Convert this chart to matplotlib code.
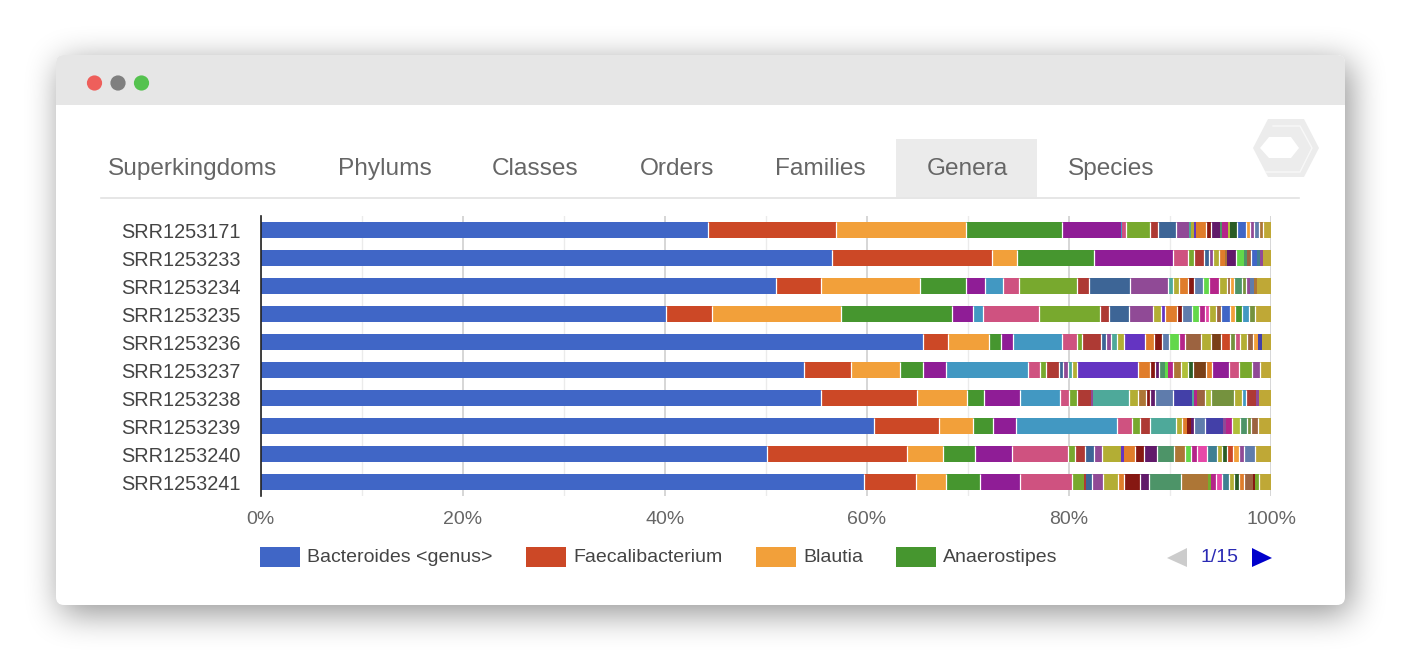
import numpy as np
import matplotlib
matplotlib.use('Agg')
import matplotlib.pyplot as plt
from matplotlib.patches import Circle, FancyBboxPatch, Polygon, Rectangle

plt.rcParams['font.family'] = ['Liberation Sans', 'DejaVu Sans']

W, H = 1410, 670

samples = ['SRR1253171', 'SRR1253233', 'SRR1253234', 'SRR1253235', 'SRR1253236',
           'SRR1253237', 'SRR1253238', 'SRR1253239', 'SRR1253240', 'SRR1253241']
tabs = ['Superkingdoms', 'Phylums', 'Classes', 'Orders', 'Families', 'Genera', 'Species']
legend_labels = ['Bacteroides <genus>', 'Faecalibacterium', 'Blautia', 'Anaerostipes']
x_ticks = [0, 20, 40, 60, 80, 100]
x_minor = [10, 30, 50, 70, 90]

# chart colours, short names are used in the keys_ lists below
palette = {
    'blu': '#4066c6', 'red': '#cc4826', 'org': '#f2a03a', 'grn': '#46962f', 'pur': '#8f1d96',
    'cya': '#4298c2', 'pnk': '#cf5280', 'lim': '#78a92e', 'dre': '#ae3a34', 'ste': '#3d6596',
    'vio': '#904a96', 'tea': '#4ea99a', 'oli': '#b3ae34', 'ind': '#6434c2', 'dor': '#e07d2b',
    'mar': '#861812', 'dpu': '#611a6a', 'sea': '#4d9468', 'sla': '#5f7cac', 'nav': '#4340a8',
    'och': '#ad7636', 'bgr': '#63d84a', 'mag': '#b5258a', 'hot': '#e648a8', 'bro': '#9c6340',
    'ygr': '#b0c03a', 'pet': '#3f7f92', 'mos': '#75923e', 'gol': '#bfa836', 'dgr': '#2a5c26',
    'rus': '#7a4018',
}

# right hand end of each stacked segment, percent
ends_171 = [44.3, 57.0, 69.8, 79.3, 85.2, 85.3, 85.7, 88.0, 88.8, 90.6, 91.9, 92.1, 92.4, 92.55,
            93.6, 94.05, 94.95, 95.2, 95.7, 95.95, 96.6, 97.5, 97.9, 98.3, 98.85, 99.25, 100]
keys_171 = ['blu', 'red', 'org', 'grn', 'pur', 'cya', 'pnk', 'lim', 'dre', 'ste', 'vio', 'tea', 'oli', 'ind',
            'dor', 'mar', 'dpu', 'sea', 'mag', 'ygr', 'dgr', 'blu', 'org', 'vio', 'sla', 'och', 'gol']
ends_233 = [56.6, 72.4, 74.9, 82.5, 90.3, 91.8, 92.4, 93.4, 93.9, 94.3, 94.9, 95.4, 95.6,
            96.5, 97.35, 97.6, 98.05, 98.6, 98.9, 99.25, 100]
keys_233 = ['blu', 'red', 'org', 'grn', 'pur', 'pnk', 'lim', 'dre', 'ste', 'vio', 'oli', 'dor', 'och',
            'dpu', 'bgr', 'sea', 'bro', 'blu', 'pet', 'vio', 'gol']
ends_234 = [51.0, 55.5, 65.3, 69.8, 71.7, 73.5, 75.1, 80.8, 82.0, 86.05, 89.85, 90.3, 90.9, 91.8,
            92.4, 93.3, 93.9, 94.85, 95.6, 95.95, 96.35, 97.1, 97.5, 97.95, 98.3, 98.6, 100]
keys_234 = ['blu', 'red', 'org', 'grn', 'pur', 'cya', 'pnk', 'lim', 'dre', 'ste', 'vio', 'tea', 'oli', 'dor',
            'mar', 'sla', 'bgr', 'mag', 'oli', 'bro', 'org', 'sea', 'mos', 'vio', 'sla', 'och', 'gol']
ends_235 = [40.1, 44.65, 57.45, 68.4, 70.55, 71.5, 77.05, 83.1, 84.0, 85.95, 88.35, 89.1, 89.55, 90.65,
            91.2, 92.15, 92.85, 93.5, 93.9, 94.6, 95.1, 95.9, 96.45, 97.1, 97.8, 98.4, 100]
keys_235 = ['blu', 'red', 'org', 'grn', 'pur', 'cya', 'pnk', 'lim', 'dre', 'ste', 'vio', 'oli', 'ind', 'dor',
            'mar', 'sla', 'bgr', 'mag', 'hot', 'oli', 'bro', 'blu', 'org', 'grn', 'cya', 'mos', 'gol']
ends_236 = [65.6, 68.0, 72.1, 73.3, 74.5, 79.3, 80.85, 81.25, 83.2, 83.7, 84.15, 84.75, 85.45, 87.5, 88.45,
            89.25, 89.95, 90.85, 91.5, 93.05, 94.05, 95.05, 95.95, 96.45, 96.95, 97.6, 98.25, 98.75, 99.1, 100]
keys_236 = ['blu', 'red', 'org', 'grn', 'pur', 'cya', 'pnk', 'lim', 'dre', 'ste', 'vio', 'tea', 'oli', 'ind', 'dor',
            'mar', 'sla', 'bgr', 'mag', 'bro', 'oli', 'rus', 'red', 'mos', 'pnk', 'oli', 'bro', 'org', 'nav', 'gol']
ends_237 = [53.8, 58.4, 63.3, 65.55, 67.85, 76.0, 77.15, 77.75, 79.0, 79.45, 79.9, 80.3, 80.8, 86.8, 88.05,
            88.5, 88.95, 89.5, 89.85, 90.3, 91.05, 91.75, 92.3, 93.6, 94.2, 95.85, 96.8, 98.1, 98.95, 100]
keys_237 = ['blu', 'red', 'org', 'grn', 'pur', 'cya', 'pnk', 'lim', 'dre', 'ste', 'vio', 'tea', 'oli', 'ind', 'dor',
            'mar', 'dpu', 'sea', 'bgr', 'mag', 'och', 'ygr', 'dgr', 'rus', 'dor', 'pur', 'pnk', 'lim', 'vio', 'gol']
ends_238 = [55.5, 65.0, 69.95, 71.6, 75.2, 79.1, 80.05, 80.85, 82.15, 82.35, 85.95, 86.8, 87.6, 88.05,
            88.55, 90.3, 92.15, 92.4, 92.7, 93.45, 94.05, 96.3, 97.1, 97.55, 98.5, 98.85, 100]
keys_238 = ['blu', 'red', 'org', 'grn', 'pur', 'cya', 'pnk', 'lim', 'dre', 'vio', 'tea', 'oli', 'och', 'mar',
            'dpu', 'sla', 'nav', 'tea', 'mag', 'bro', 'ygr', 'mos', 'oli', 'cya', 'dre', 'vio', 'gol']
ends_239 = [60.75, 67.1, 70.55, 72.5, 74.75, 84.75, 86.2, 87.0, 88.05, 90.6, 91.2, 91.7, 92.05, 92.4,
            93.5, 95.25, 95.55, 96.1, 96.95, 97.6, 98.05, 98.75, 100]
keys_239 = ['blu', 'red', 'org', 'grn', 'pur', 'cya', 'pnk', 'lim', 'dre', 'tea', 'oli', 'dor', 'mar', 'dpu',
            'sla', 'nav', 'vio', 'mag', 'ygr', 'sea', 'mos', 'bro', 'gol']
ends_240 = [50.1, 63.95, 67.55, 70.7, 74.35, 79.9, 80.65, 81.55, 82.45, 83.3, 85.2, 85.45, 86.5, 87.45, 88.75,
            90.45, 91.5, 92.1, 92.7, 93.65, 94.7, 95.15, 95.6, 96.2, 96.8, 97.3, 98.45, 100]
keys_240 = ['blu', 'red', 'org', 'grn', 'pur', 'pnk', 'lim', 'dre', 'ste', 'vio', 'oli', 'ind', 'dor', 'mar', 'dpu',
            'sea', 'och', 'bgr', 'mag', 'hot', 'pet', 'oli', 'dgr', 'red', 'org', 'vio', 'sla', 'gol']
ends_241 = [59.7, 64.85, 67.85, 71.2, 75.2, 80.3, 81.45, 81.7, 82.3, 83.4, 84.9, 85.45, 87.0, 87.9, 91.1,
            93.75, 94.05, 94.55, 95.15, 95.85, 96.3, 96.8, 97.35, 98.25, 98.4, 98.85, 100]
keys_241 = ['blu', 'red', 'org', 'grn', 'pur', 'pnk', 'lim', 'dre', 'ste', 'vio', 'oli', 'dor', 'mar', 'dpu', 'sea',
            'och', 'lim', 'mag', 'hot', 'pet', 'oli', 'dgr', 'dor', 'bro', 'mar', 'lim', 'gol']

all_ends = [ends_171, ends_233, ends_234, ends_235, ends_236, ends_237, ends_238, ends_239, ends_240, ends_241]
all_keys = [keys_171, keys_233, keys_234, keys_235, keys_236, keys_237, keys_238, keys_239, keys_240, keys_241]


def box_blur(img, r):
    # three passes of a box filter, close enough to a gaussian
    kernel = np.ones(2 * r + 1) / (2 * r + 1)
    for _ in range(3):
        img = np.apply_along_axis(lambda v: np.convolve(v, kernel, mode='same'), 0, img)
        img = np.apply_along_axis(lambda v: np.convolve(v, kernel, mode='same'), 1, img)
    return img


fig = plt.figure(figsize=(W / 100, H / 100), dpi=100, facecolor='white')

# window chrome, in pixel coordinates
bg = fig.add_axes([0, 0, 1, 1])
shadow = np.zeros((H, W))
shadow[63:613, 61:1350] = 1.0
shadow = box_blur(shadow, 16) * 0.44
rgba = np.zeros((H, W, 4))
rgba[..., 3] = shadow
bg.imshow(rgba, extent=(0, W, H, 0), aspect='auto', zorder=0, interpolation='bilinear')
bg.set_xlim(0, W)
bg.set_ylim(H, 0)
bg.axis('off')

panel = FancyBboxPatch((56, 55), 1289, 550, boxstyle='round,pad=0,rounding_size=8',
                       fc='white', ec='none', zorder=1)
bg.add_patch(panel)
header = Rectangle((56, 55), 1289, 50, fc='#e6e6e6', ec='none', zorder=2)
bg.add_patch(header)
header.set_clip_path(panel)

for cx, col in zip([94.5, 118, 141.5], ['#ee5f5b', '#7f7f7f', '#55c24f']):
    bg.add_patch(Circle((cx, 83), 7.6, fc=col, ec='none', zorder=3))

# tabs
bg.add_patch(Rectangle((896, 139), 141, 58, fc='#ebebeb', ec='none', zorder=2))
bg.plot([101, 1299], [198, 198], color='#e2e2e2', lw=1.2, zorder=2)
tab_x = [108, 338, 492, 640, 775, 927, 1068]
for label, x in zip(tabs, tab_x):
    bg.text(x, 169, label, fontsize=17.6, color='#666666', ha='left', va='center', zorder=3)

# logo
bg.add_patch(Polygon([(1253, 148), (1268, 119), (1304, 119), (1319, 148), (1304, 177), (1268, 177)],
                     closed=True, fc='#ececec', ec='none', zorder=2))
bg.plot([1273, 1300, 1312, 1300, 1266], [126, 126, 148, 172, 172], color='#f8f8f8', lw=1.0, zorder=3)
bg.add_patch(Polygon([(1260, 148), (1269, 137), (1291, 137), (1299, 148), (1291, 158), (1269, 158)],
                     closed=True, fc='white', ec='none', zorder=3))

# legend and pager
swatch_x = [260, 526, 756, 896]
text_x = [307, 573, 803, 943]
for label, key, sx, tx in zip(legend_labels, ['blu', 'red', 'org', 'grn'], swatch_x, text_x):
    bg.add_patch(Rectangle((sx, 547), 40, 20, fc=palette[key], ec='none', zorder=3))
    bg.text(tx, 558, label, fontsize=14, color='#444444', ha='left', va='center', zorder=3)
bg.add_patch(Polygon([(1167, 558), (1187, 548), (1187, 567)], closed=True, fc='#cccccc', ec='none', zorder=3))
bg.add_patch(Polygon([(1252, 548), (1272, 558), (1252, 567)], closed=True, fc='#0000cc', ec='none', zorder=3))
bg.text(1220, 558, '1/15', fontsize=14, color='#2a2ab4', ha='center', va='center', zorder=3)

# the stacked bars
bar_h = 0.56
ax = fig.add_axes([260.5 / W, 1 - 496 / H, (1271 - 260.5) / W, 280 / H])
ax.patch.set_alpha(0)
for i, (ends, keys) in enumerate(zip(all_ends, all_keys)):
    widths = np.diff([0] + ends)
    lefts = np.array(ends) - widths
    ax.barh(i, widths, left=lefts, height=bar_h, color=[palette[k] for k in keys],
            linewidth=0, zorder=3)
    # thin white gaps, only between segments wide enough to show them
    for end, w, w_next in zip(ends[:-1], widths[:-1], widths[1:]):
        if w > 0.35 and w_next > 0.35:
            ax.plot([end, end], [i - bar_h / 2, i + bar_h / 2], color='white', lw=0.9,
                    solid_capstyle='butt', zorder=4)

ax.set_xlim(0, 100)
ax.set_ylim(9.5, -0.5)
ax.set_yticks(range(len(samples)))
ax.set_yticklabels(samples)
ax.set_xticks(x_ticks)
ax.set_xticklabels([f'{t}%' for t in x_ticks])
ax.set_xticks(x_minor, minor=True)
ax.tick_params(axis='both', which='both', length=0)
ax.tick_params(axis='x', labelsize=14, labelcolor='#666666', pad=11)
ax.tick_params(axis='y', labelsize=14.3, labelcolor='#444444', pad=14.5)
ax.grid(True, axis='x', which='major', color='#cfcfcf', lw=1.2, zorder=0)
ax.grid(True, axis='x', which='minor', color='#ebebeb', lw=1, zorder=0)
ax.set_axisbelow(True)
for side in ['top', 'right', 'bottom']:
    ax.spines[side].set_visible(False)
ax.spines['left'].set_color('#222222')
ax.spines['left'].set_linewidth(1.2)
ax.spines['left'].set_zorder(6)

fig.savefig('out.png', dpi=100)
